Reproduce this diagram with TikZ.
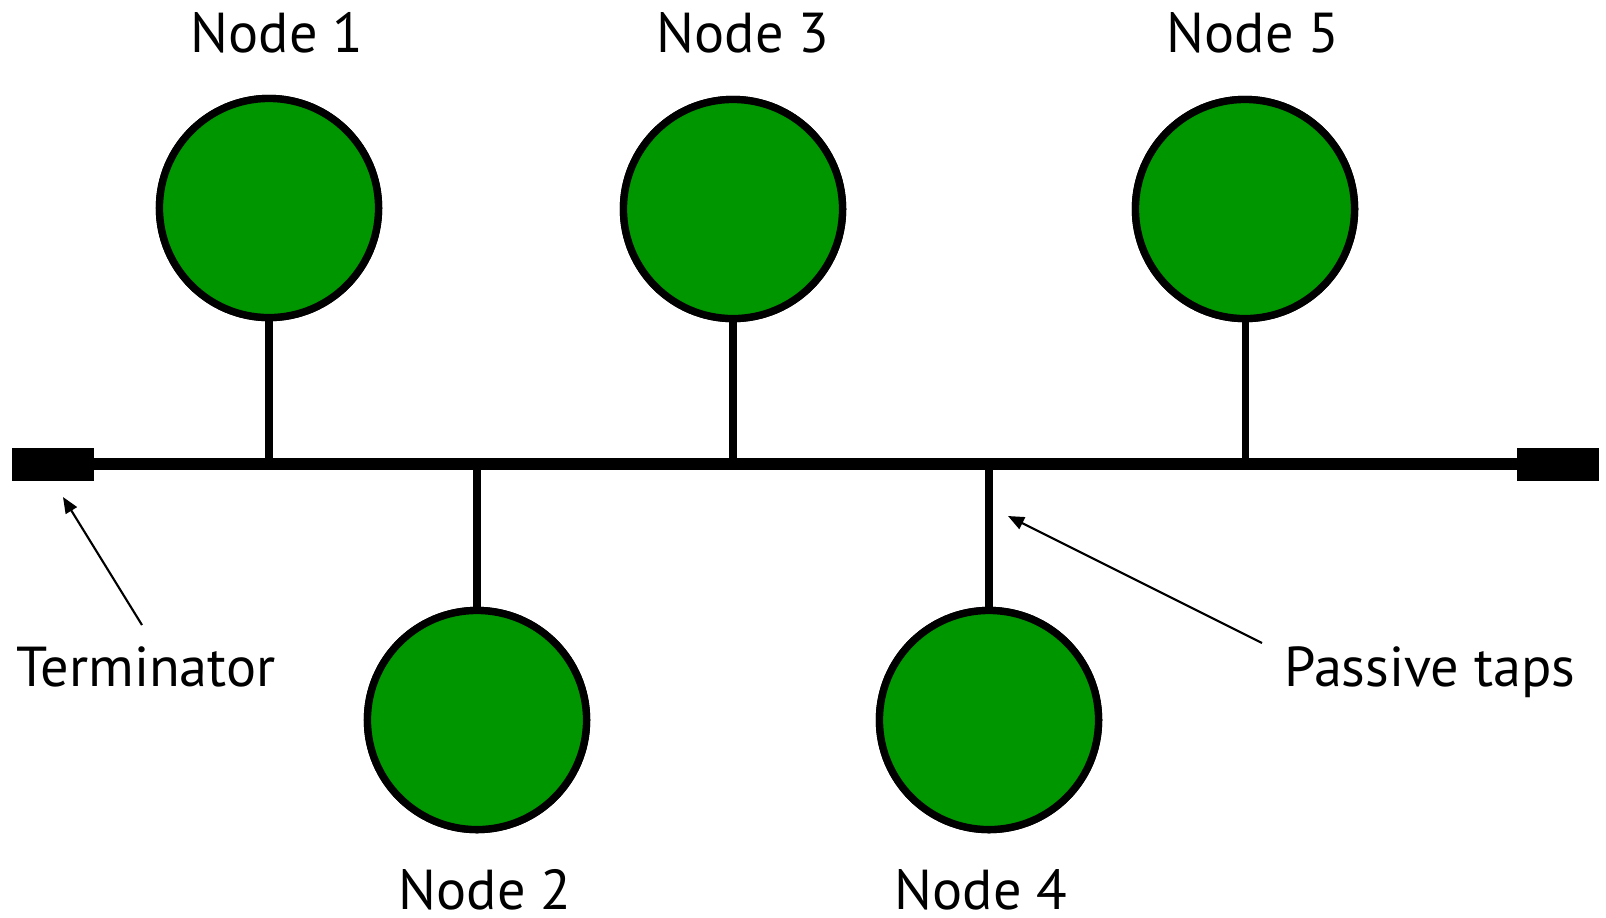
\documentclass[tikz,border=0pt]{standalone}
\usepackage{fontspec}
\setmainfont{PT Sans}
\usepackage{tikz}
\usetikzlibrary{arrows.meta}

\definecolor{nodegreen}{RGB}{0,150,0}

\begin{document}
\begin{tikzpicture}[
		x=0.01cm, y=-0.01cm,
		station/.style={circle, draw, line width=2.1pt, fill=nodegreen, minimum size=2.19cm, inner sep=0pt},
		terminator/.style={rectangle, fill=black, minimum width=0.81cm, minimum height=0.33cm, inner sep=0pt},
		bus/.style={line width=3.2pt},
		tap/.style={line width=2pt},
		pointer/.style={-{Triangle[length=0.16cm, width=0.13cm]}, line width=0.6pt},
		label/.style={font=\fontsize{16}{19}\selectfont, inner sep=0pt}
	]
		\useasboundingbox (0,0) rectangle (1606,917);

		% Terminators
		\node[terminator] (termL) at (53,464) {};
		\node[terminator] (termR) at (1558,464) {};

		% Bus
		\draw[bus] (termL.east) -- (termR.west);

		% Stations
		\node[station] (n1) at (269,208) {};
		\node[station] (n2) at (477,720) {};
		\node[station] (n3) at (733,209) {};
		\node[station] (n4) at (989,720) {};
		\node[station] (n5) at (1245,209) {};

		% Taps
		\foreach \n in {n1,n2,n3,n4,n5}
			\draw[tap] (\n) -- (\n |- termL.center);
		\foreach \n in {n1,n2,n3,n4,n5}
			\node[station] at (\n) {};

		% Labels
		\node[label] (lab1) at (277,33) {Node 1};
		\node[label] (lab3) at (743,33) {Node 3};
		\node[label] (lab5) at (1253,33) {Node 5};
		\node[label] (lab2) at (485,890) {Node 2};
		\node[label] (lab4) at (981,890) {Node 4};
		\node[label] (termlab) at (146,667) {Terminator};
		\node[label] (taplab) at (1430,672) {Passive taps};

		% Pointers
		\coordinate (termtail) at (142,625);
		\coordinate (termtip) at (63,497);
		\coordinate (taptail) at (1262,643);
		\coordinate (taptip) at (1008,516);
		\draw[pointer] (termtail) -- (termtip);
		\draw[pointer] (taptail) -- (taptip);
	\end{tikzpicture}
\end{document}
